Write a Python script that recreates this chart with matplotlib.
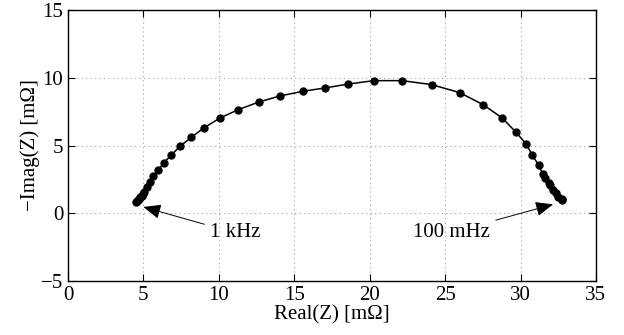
import matplotlib
matplotlib.use('Agg')
import matplotlib.pyplot as plt

# impedance data (m-ohm), from 1 kHz to 100 mHz
re_z = [4.48, 4.55, 4.62, 4.70, 4.78, 4.88, 4.97, 5.06, 5.21, 5.43, 5.65, 5.98,
        6.34, 6.83, 7.42, 8.17, 9.03, 10.09, 11.29, 12.64, 14.05, 15.55, 17.03,
        18.58, 20.28, 22.15, 24.10, 25.96, 27.52, 28.78, 29.69, 30.39, 30.79,
        31.21, 31.46, 31.61, 31.90, 31.94, 32.16, 32.34, 32.49, 32.72, 32.78]
im_z = [0.81, 0.89, 0.98, 1.08, 1.18, 1.30, 1.42, 1.58, 1.94, 2.31, 2.73, 3.17,
        3.71, 4.28, 4.94, 5.61, 6.32, 7.04, 7.65, 8.21, 8.66, 9.00, 9.25,
        9.54, 9.79, 9.79, 9.50, 8.91, 8.02, 7.04, 6.00, 5.09, 4.28,
        3.54, 2.93, 2.63, 2.24, 2.07, 1.75, 1.50, 1.20, 1.03, 1.00]

plt.rcParams['font.family'] = ['Liberation Serif', 'DejaVu Serif']
plt.rcParams['font.size'] = 15

fig = plt.figure(figsize=(6.24, 3.35), dpi=100)
ax = fig.add_axes([0.109, 0.161, 0.846, 0.809])

ax.plot(re_z, im_z, color='black', lw=1.1, marker='o', ms=5)

ax.set_xlim(0, 35)
ax.set_ylim(-5, 15)
ax.set_xticks(range(0, 36, 5))
ax.set_yticks(range(-5, 16, 5))
ax.grid(True, color='#a0a0a0', linestyle=(0, (1, 3)), lw=0.8)
ax.tick_params(direction='in', top=True, right=True, length=5, labelsize=15)
for s in ax.spines.values():
    s.set_linewidth(1.0)

ax.set_xlabel('Real(Z) [mΩ]', fontsize=15, labelpad=0)
ax.set_ylabel('\u2212Imag(Z) [mΩ]', fontsize=15, labelpad=1)

ax.annotate('1 kHz', xy=(4.99, 0.47), xytext=(9.4, -1.45), va='center', ha='left',
            arrowprops=dict(arrowstyle='-|>,head_length=0.6,head_width=0.25',
                            color='black', lw=0.7, shrinkA=2, shrinkB=0,
                            mutation_scale=18))
ax.annotate('100 mHz', xy=(32.16, 0.66), xytext=(28.0, -1.4), va='center', ha='right',
            arrowprops=dict(arrowstyle='-|>,head_length=0.6,head_width=0.25',
                            color='black', lw=0.7, shrinkA=2, shrinkB=0,
                            mutation_scale=18))

fig.savefig('out.png', dpi=100)
